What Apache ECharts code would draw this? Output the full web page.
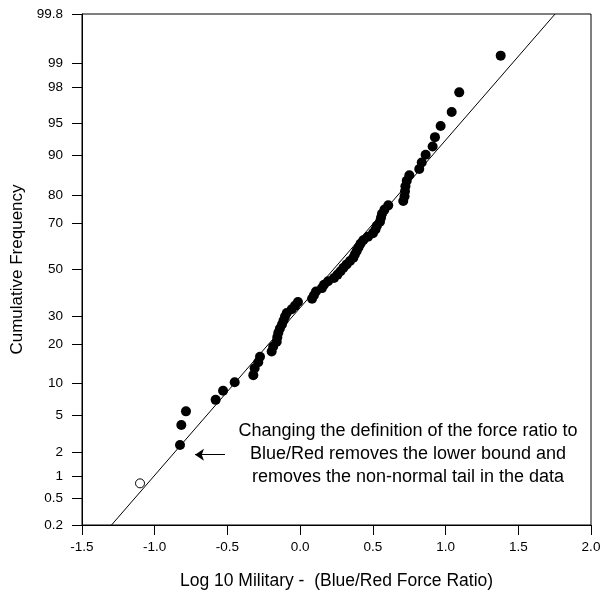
<!DOCTYPE html>
<html>
<head>
<meta charset="utf-8">
<script src="https://cdn.jsdelivr.net/npm/echarts@6/dist/echarts.min.js"></script>
<style>html,body{margin:0;padding:0;background:#fff}#c{width:603px;height:591px}</style>
</head>
<body>
<div id="c"></div>
<script>
// Y tick labels (cumulative frequency, %)
const tickPct = [0.2, 0.5, 1, 2, 5, 10, 20, 30, 50, 70, 80, 90, 95, 98, 99, 99.8];
const tickLabels = ['0.2','0.5','1','2','5','10','20','30','50','70','80','90','95','98','99','99.8'];

// Filled points: log10 force ratio, cumulative frequency (%)
const filledX = [-0.826,-0.817,-0.785,-0.581,-0.530,-0.450,-0.322,-0.313,-0.288,-0.276,
  -0.196,-0.185,-0.161,-0.157,-0.150,-0.139,-0.125,-0.114,-0.104,-0.092,
  -0.058,-0.035,-0.015,0.082,0.095,0.109,0.150,0.164,0.192,0.233,
  0.257,0.278,0.298,0.320,0.343,0.366,0.377,0.389,0.401,0.415,
  0.434,0.467,0.501,0.518,0.528,0.549,0.556,0.563,0.580,0.606,
  0.709,0.718,0.721,0.724,0.733,0.751,0.819,0.836,0.863,0.911,
  0.927,0.966,1.042,1.094,1.379];
const filledPct = [2.4,4.0,5.5,7.1,8.6,10.2,11.7,13.3,14.8,16.3,
  17.8,19.3,20.8,22.3,23.8,25.3,26.8,28.3,29.8,31.2,
  32.7,34.2,35.7,37.1,38.6,40.2,41.7,43.2,44.7,46.2,
  47.7,49.2,50.8,52.3,53.8,55.3,56.8,58.3,59.8,61.4,
  62.9,64.4,65.9,67.4,68.9,70.5,72.0,73.5,75.0,76.5,
  78.0,79.5,81.1,82.6,84.1,85.6,87.1,88.6,90.2,91.7,
  93.2,94.7,96.2,97.7,99.2];

// Open point
const openX = [-1.101];
const openPct = [0.8];

// Fitted normal line endpoints
const fitX = [-1.297, 1.753];
const fitPct = [0.2, 99.8];

// Annotation arrow
const arrowX = [-0.517, -0.723];
const arrowPct = 1.85;
const noteText = 'Changing the definition of the force ratio to\nBlue/Red removes the lower bound and\nremoves the non-normal tail in the data';

// inverse standard normal CDF (Acklam)
function probit(p) {
  const a = [-3.969683028665376e+01, 2.209460984245205e+02, -2.759285104469687e+02, 1.383577518672690e+02, -3.066479806614716e+01, 2.506628277459239e+00];
  const b = [-5.447609879822406e+01, 1.615858368580409e+02, -1.556989798598866e+02, 6.680131188771972e+01, -1.328068155288572e+01];
  const c = [-7.784894002430293e-03, -3.223964580411365e-01, -2.400758277161838e+00, -2.549732539343734e+00, 4.374664141464968e+00, 2.938163982698783e+00];
  const d = [7.784695709041462e-03, 3.224671290700398e-01, 2.445134137142996e+00, 3.754408661907416e+00];
  const pl = 0.02425, ph = 1 - pl;
  let q, r;
  if (p < pl) { q = Math.sqrt(-2 * Math.log(p)); return (((((c[0]*q+c[1])*q+c[2])*q+c[3])*q+c[4])*q+c[5]) / ((((d[0]*q+d[1])*q+d[2])*q+d[3])*q+1); }
  if (p <= ph) { q = p - 0.5; r = q*q; return (((((a[0]*r+a[1])*r+a[2])*r+a[3])*r+a[4])*r+a[5])*q / (((((b[0]*r+b[1])*r+b[2])*r+b[3])*r+b[4])*r+1); }
  q = Math.sqrt(-2 * Math.log(1 - p)); return -(((((c[0]*q+c[1])*q+c[2])*q+c[3])*q+c[4])*q+c[5]) / ((((d[0]*q+d[1])*q+d[2])*q+d[3])*q+1);
}
const z = pct => probit(pct / 100);
const tickZ = tickPct.map(z);

const FONT = 'Liberation Sans, Arial, sans-serif';
const chart = echarts.init(document.getElementById('c'));
chart.setOption({
  animation: false,
  grid: { left: 82, right: 12, top: 14, bottom: 66, outerBoundsMode: 'none', containLabel: false, show: true, borderColor: '#000', borderWidth: 1 },
  xAxis: {
    type: 'value', min: -1.5, max: 2.0, interval: 0.5,
    name: 'Log 10 Military -  (Blue/Red Force Ratio)', nameLocation: 'middle', nameGap: 47,
    nameTextStyle: { fontSize: 17.5, fontFamily: FONT, color: '#000' },
    axisLine: { onZero: false, lineStyle: { color: '#000', width: 1 } },
    axisTick: { length: 10, lineStyle: { color: '#000' } },
    axisLabel: { margin: 15, fontSize: 13.5, fontFamily: FONT, color: '#000', formatter: v => v.toFixed(1) },
    splitLine: { show: false }
  },
  yAxis: {
    type: 'value', min: z(0.2), max: z(99.8),
    name: 'Cumulative Frequency', nameLocation: 'middle', nameGap: 56,
    nameTextStyle: { fontSize: 17, fontFamily: FONT, color: '#000' },
    axisLine: { onZero: false, lineStyle: { color: '#000', width: 1 } },
    axisTick: { length: 10, customValues: tickZ, lineStyle: { color: '#000' } },
    axisLabel: {
      margin: 19, fontSize: 13.5, fontFamily: FONT, color: '#000', customValues: tickZ,
      formatter: v => { for (let i = 0; i < tickZ.length; i++) if (Math.abs(tickZ[i] - v) < 1e-6) return tickLabels[i]; return ''; }
    },
    splitLine: { show: false }
  },
  series: [
    {
      type: 'line', data: fitX.map((x, i) => [x, z(fitPct[i])]), symbol: 'none',
      lineStyle: { color: '#000', width: 1 }, silent: true, z: 2,
      markLine: {
        silent: true, symbol: ['none', 'arrow'], symbolSize: 9, label: { show: false },
        lineStyle: { color: '#000', width: 1, type: 'solid' },
        itemStyle: { color: '#000' },
        data: [[{ coord: [arrowX[0], z(arrowPct)] }, { coord: [arrowX[1], z(arrowPct)] }]]
      }
    },
    {
      type: 'scatter', data: filledX.map((x, i) => [x, z(filledPct[i])]),
      symbol: 'circle', symbolSize: 10, itemStyle: { color: '#000', opacity: 1 }, z: 3
    },
    {
      type: 'scatter', data: openX.map((x, i) => [x, z(openPct[i])]),
      symbol: 'circle', symbolSize: 9, itemStyle: { color: '#fff', borderColor: '#000', borderWidth: 1, opacity: 1 }, z: 3
    }
  ],
  graphic: [{
    type: 'text', x: 408, y: 420, z: 10,
    style: { text: noteText, fontSize: 18, fontFamily: FONT, fill: '#000', align: 'center', verticalAlign: 'top', lineHeight: 23 }
  }]
});
</script>
</body>
</html>
